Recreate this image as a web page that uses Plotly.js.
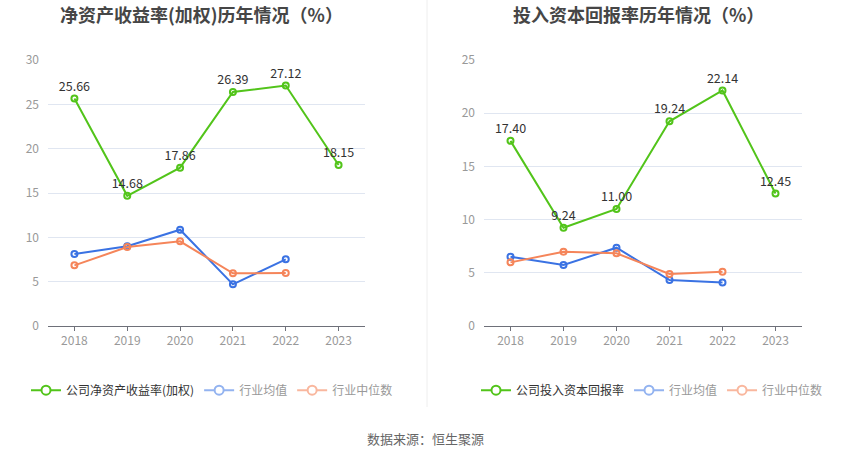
<!DOCTYPE html>
<html>
<head>
<meta charset="utf-8">
<script src="https://cdn.plot.ly/plotly-3.0.1.min.js"></script>
<style>html,body{margin:0;padding:0;background:#fff;}#chart{width:850px;height:459px;}</style>
</head>
<body>
<div id="chart"></div>
<script>
const years = ['2018','2019','2020','2021','2022','2023'];
const roeCompany = [25.66, 14.68, 17.86, 26.39, 27.12, 18.15];
const roeAvg = [8.12, 9.0, 10.86, 4.7, 7.52];
const roeMedian = [6.84, 8.9, 9.55, 5.94, 5.98];
const roicCompany = [17.40, 9.24, 11.00, 19.24, 22.14, 12.45];
const roicAvg = [6.51, 5.73, 7.36, 4.32, 4.1];
const roicMedian = [5.98, 6.98, 6.83, 4.89, 5.1];
const leftTitle = '净资产收益率(加权)历年情况（%）';
const rightTitle = '投入资本回报率历年情况（%）';
const leftNames = ['公司净资产收益率(加权)', '行业均值', '行业中位数'];
const rightNames = ['公司投入资本回报率', '行业均值', '行业中位数'];
const sourceText = '数据来源：恒生聚源';

const GREEN = '#52c41a', BLUE = '#3a72e3', ORANGE = '#f5855a';
const FONT = '"Noto Sans CJK SC", "Noto Sans", sans-serif';

function line(x, y, color, xa, ya, withText) {
  const t = {
    x: x, y: y, xaxis: xa, yaxis: ya, type: 'scatter', mode: withText ? 'lines+markers+text' : 'lines+markers',
    line: {color: color, width: 2},
    marker: {symbol: 'circle-open', size: 6, color: color, line: {width: 2, color: color}},
    showlegend: false, hoverinfo: 'x+y', cliponaxis: false
  };
  if (withText) {
    t.text = y.map(v => v.toFixed(2));
    t.textposition = 'top center';
    t.textfont = {size: 12.5, color: '#333', family: FONT};
  }
  return t;
}
function legendItem(name, color, textColor, legend) {
  return {
    x: [null], y: [null], type: 'scatter', mode: 'lines+markers',
    name: '<span style="color:' + textColor + '">' + name + '</span>',
    line: {color: color, width: 2},
    marker: {symbol: 'circle', size: 9, color: '#fff', line: {width: 2, color: color}},
    legend: legend, showlegend: true, xaxis: 'x', yaxis: 'y'
  };
}

const data = [
  line(years.slice(0, 5), roeAvg, BLUE, 'x', 'y', false),
  line(years.slice(0, 5), roeMedian, ORANGE, 'x', 'y', false),
  line(years, roeCompany, GREEN, 'x', 'y', true),
  line(years.slice(0, 5), roicAvg, BLUE, 'x2', 'y2', false),
  line(years.slice(0, 5), roicMedian, ORANGE, 'x2', 'y2', false),
  line(years, roicCompany, GREEN, 'x2', 'y2', true),
  legendItem(leftNames[0], GREEN, '#333', 'legend'),
  legendItem(leftNames[1], '#93b3f0', '#999', 'legend'),
  legendItem(leftNames[2], '#f9b79e', '#999', 'legend'),
  legendItem(rightNames[0], GREEN, '#333', 'legend2'),
  legendItem(rightNames[1], '#93b3f0', '#999', 'legend2'),
  legendItem(rightNames[2], '#f9b79e', '#999', 'legend2')
];

const xcommon = {
  type: 'category', range: [-0.5, 5.5], showgrid: false, zeroline: false,
  showline: true, linecolor: '#6e7079', linewidth: 1,
  ticks: 'outside', ticklen: 4, tickcolor: '#6e7079',
  tickfont: {size: 12, color: '#999', family: FONT}, fixedrange: true
};
const ycommon = {
  showgrid: true, gridcolor: '#e0e6f1', zeroline: false, showline: false,
  ticks: '', tickfont: {size: 12, color: '#999', family: FONT}, ticklabelstandoff: 8, fixedrange: true
};
const legendCommon = {
  orientation: 'h', y: 0.15, yanchor: 'middle', xanchor: 'left',
  font: {size: 12, family: FONT, color: '#333'}, bgcolor: 'rgba(0,0,0,0)',
  itemwidth: 30, tracegroupgap: 0, itemclick: false, itemdoubleclick: false
};

const layout = {
  width: 850, height: 459,
  margin: {l: 0, r: 0, t: 0, b: 0},
  paper_bgcolor: '#fff', plot_bgcolor: '#fff',
  font: {family: FONT},
  xaxis: Object.assign({}, xcommon, {domain: [48/850, 365/850], anchor: 'y'}),
  yaxis: Object.assign({}, ycommon, {domain: [1 - 326/459, 1 - 60/459], range: [0, 30], dtick: 5, anchor: 'x'}),
  xaxis2: Object.assign({}, xcommon, {domain: [484/850, 802/850], anchor: 'y2'}),
  yaxis2: Object.assign({}, ycommon, {domain: [1 - 326/459, 1 - 60/459], range: [0, 25], dtick: 5, anchor: 'x2'}),
  legend: Object.assign({}, legendCommon, {x: 26/850}),
  legend2: Object.assign({}, legendCommon, {x: 476/850}),
  showlegend: true,
  shapes: [
    {type: 'line', xref: 'paper', yref: 'paper', x0: 427/850, x1: 427/850, y0: 1 - 407/459, y1: 1, line: {color: '#eeeeee', width: 1}}
  ],
  annotations: [
    {text: '<b>' + leftTitle + '</b>', xref: 'paper', yref: 'paper', x: 201/850, y: 1 - 14/459, xanchor: 'center', yanchor: 'middle', showarrow: false, font: {size: 18, color: '#464646', family: FONT}},
    {text: '<b>' + rightTitle + '</b>', xref: 'paper', yref: 'paper', x: 638/850, y: 1 - 14/459, xanchor: 'center', yanchor: 'middle', showarrow: false, font: {size: 18, color: '#464646', family: FONT}},
    {text: sourceText, xref: 'paper', yref: 'paper', x: 0.5, y: 1 - 438/459, xanchor: 'center', yanchor: 'middle', showarrow: false, font: {size: 13, color: '#666', family: FONT}}
  ]
};

Plotly.newPlot('chart', data, layout, {staticPlot: true, displayModeBar: false});
</script>
</body>
</html>
